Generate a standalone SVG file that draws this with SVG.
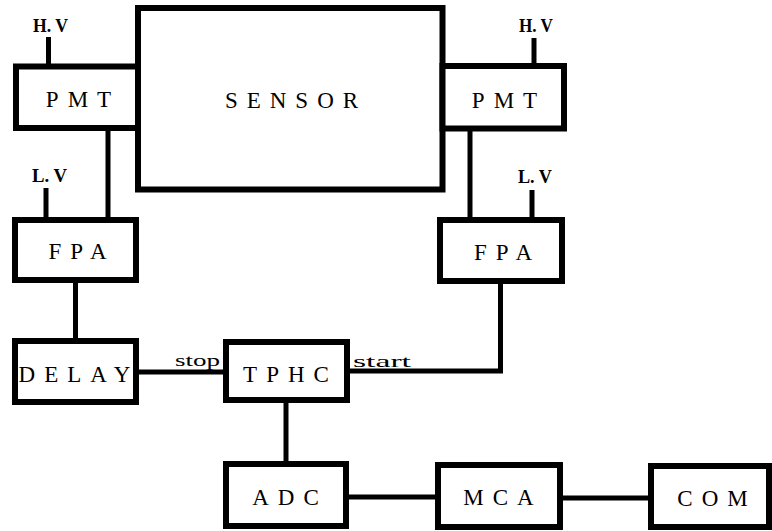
<svg xmlns="http://www.w3.org/2000/svg" width="772" height="531" viewBox="0 0 772 531">
<style>
.box{fill:#fff;stroke:#000;stroke-width:6}
.ln{fill:none;stroke:#000;stroke-width:5;stroke-linecap:butt}
.lbl{font-family:'Liberation Serif','DejaVu Serif',serif;font-size:23px;letter-spacing:9px;text-anchor:middle;fill:#000}
.sm{font-family:'Liberation Serif','DejaVu Serif',serif;font-size:19px;font-weight:bold;fill:#000}
.tag{font-family:'Liberation Serif','DejaVu Serif',serif;font-size:17px;fill:#000}
</style>
<rect width="772" height="531" fill="#fff"/>
<g id="connectors">
<line class="ln" x1="108" y1="128" x2="108" y2="220"/>
<line class="ln" x1="48.5" y1="37" x2="48.5" y2="66"/>
<line class="ln" x1="46" y1="188" x2="46" y2="220"/>
<line class="ln" x1="534" y1="38" x2="534" y2="66"/>
<line class="ln" x1="470" y1="128" x2="470" y2="220"/>
<line class="ln" x1="532" y1="190" x2="532" y2="220"/>
<line class="ln" x1="75.5" y1="280" x2="75.5" y2="341"/>
<line class="ln" x1="136" y1="372" x2="226" y2="372"/>
<path class="ln" d="M347 371 H500.5 V281"/>
<line class="ln" x1="286" y1="400" x2="286" y2="464"/>
<line class="ln" x1="346" y1="497" x2="438" y2="497"/>
<line class="ln" x1="560" y1="498" x2="651" y2="498"/>
<text class="tag" x="175" y="366" textLength="45" lengthAdjust="spacingAndGlyphs">stop</text>
<text class="tag" x="353" y="367" textLength="58" lengthAdjust="spacingAndGlyphs">start</text>
<text class="sm" x="33" y="32" textLength="35" lengthAdjust="spacingAndGlyphs">H. V</text>
<text class="sm" x="519" y="32" textLength="34" lengthAdjust="spacingAndGlyphs">H. V</text>
<text class="sm" x="32" y="182" textLength="35" lengthAdjust="spacingAndGlyphs">L. V</text>
<text class="sm" x="518" y="183" textLength="34" lengthAdjust="spacingAndGlyphs">L. V</text>
</g>
<g id="sensor">
<rect class="box" x="138" y="8" width="304.5" height="181.5"/>
<text class="lbl" x="296" y="108">SENSOR</text>
</g>
<g id="pmt-left">
<rect class="box" x="16" y="66.5" width="122" height="61.5"/>
<text class="lbl" x="83" y="107">PMT</text>
</g>
<g id="pmt-right">
<rect class="box" x="442.5" y="66" width="121.5" height="62.5"/>
<text class="lbl" x="509" y="108">PMT</text>
</g>
<g id="fpa-left">
<rect class="box" x="15" y="220" width="121" height="60"/>
<text class="lbl" x="82" y="259">FPA</text>
</g>
<g id="fpa-right">
<rect class="box" x="440" y="220" width="122" height="61"/>
<text class="lbl" x="507.5" y="260">FPA</text>
</g>
<g id="delay">
<rect class="box" x="15" y="341" width="121" height="61"/>
<text class="lbl" x="79" y="382">DELAY</text>
</g>
<g id="tphc">
<rect class="box" x="226" y="342" width="121" height="58"/>
<text class="lbl" x="290.5" y="382">TPHC</text>
</g>
<g id="adc">
<rect class="box" x="226" y="464" width="120" height="62"/>
<text class="lbl" x="290" y="505">ADC</text>
</g>
<g id="mca">
<rect class="box" x="438" y="465" width="122" height="62"/>
<text class="lbl" x="503" y="505">MCA</text>
</g>
<g id="com">
<rect class="box" x="651" y="466" width="118" height="61"/>
<text class="lbl" x="717" y="506">COM</text>
</g>
</svg>
